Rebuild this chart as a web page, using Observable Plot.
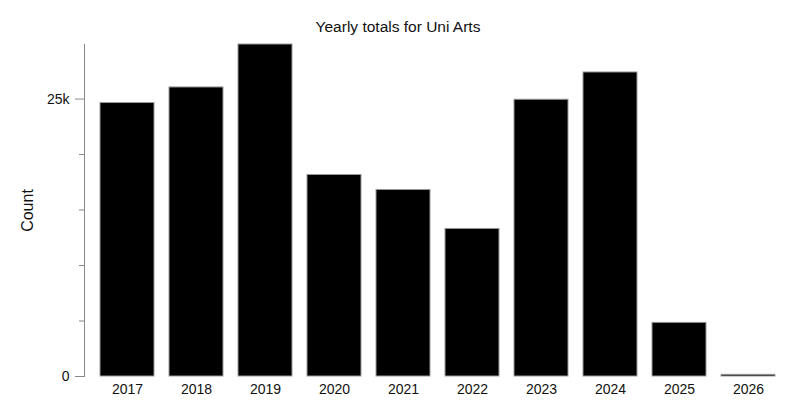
<!DOCTYPE html>
<html>
<head>
<meta charset="utf-8">
<script src="https://cdn.jsdelivr.net/npm/d3@7"></script>
<script src="https://cdn.jsdelivr.net/npm/@observablehq/plot@0.6"></script>
<style>
  html, body { margin: 0; padding: 0; background: #fff; }
  #title { width: 796px; height: 22px; padding-top: 18px; text-align: center;
           font-family: "Liberation Sans", Arial, sans-serif; font-size: 15.5px; line-height: 18px; color: #111; }
  svg { display: block; }
</style>
</head>
<body>
<div id="title">Yearly totals for Uni Arts</div>
<div id="chart"></div>
<script>
const years = ["2017","2018","2019","2020","2021","2022","2023","2024","2025","2026"];
const counts = [24640, 26045, 29915, 18158, 16808, 13297, 24937, 27395, 4834, 150];
const minorTicks = [5000, 10000, 15000, 20000];
const majorTicks = [0, 25000];
const majorLabels = ["0", "25k"];

const data = years.map((y, i) => ({year: y, count: counts[i]}));

const chart = Plot.plot({
  width: 796,
  height: 378,
  marginLeft: 84,
  marginRight: 5,
  marginTop: 4,
  marginBottom: 42,
  style: {fontFamily: "'Liberation Sans', Arial, sans-serif", fontSize: "14px", color: "#111", background: "#fff"},
  x: {type: "band", domain: years, padding: 0.22, axis: null},
  y: {domain: [0, d3.max(counts)], axis: null},
  marks: [
    Plot.frame({anchor: "left", stroke: "#888", strokeWidth: 1}),
    Plot.axisY({ticks: minorTicks, tickSize: 5, tickFormat: () => "", stroke: "#888", label: null}),
    Plot.axisY({ticks: majorTicks, tickSize: 9, tickPadding: 6, tickFormat: d => majorLabels[majorTicks.indexOf(d)], stroke: "#888", fill: "#111", fontSize: 14, label: null}),
    Plot.axisX({tickSize: 0, tickPadding: 8, fontSize: 14, fill: "#111", label: null}),
    Plot.barY(data, {x: "year", y: "count", fill: "black", stroke: "#999", strokeWidth: 1}),
    Plot.text(["Count"], {frameAnchor: "left", dx: -56.5, rotate: -90, fontSize: 16, fill: "#111", textAnchor: "middle", lineAnchor: "middle"})
  ]
});
document.getElementById("chart").appendChild(chart);
</script>
</body>
</html>
